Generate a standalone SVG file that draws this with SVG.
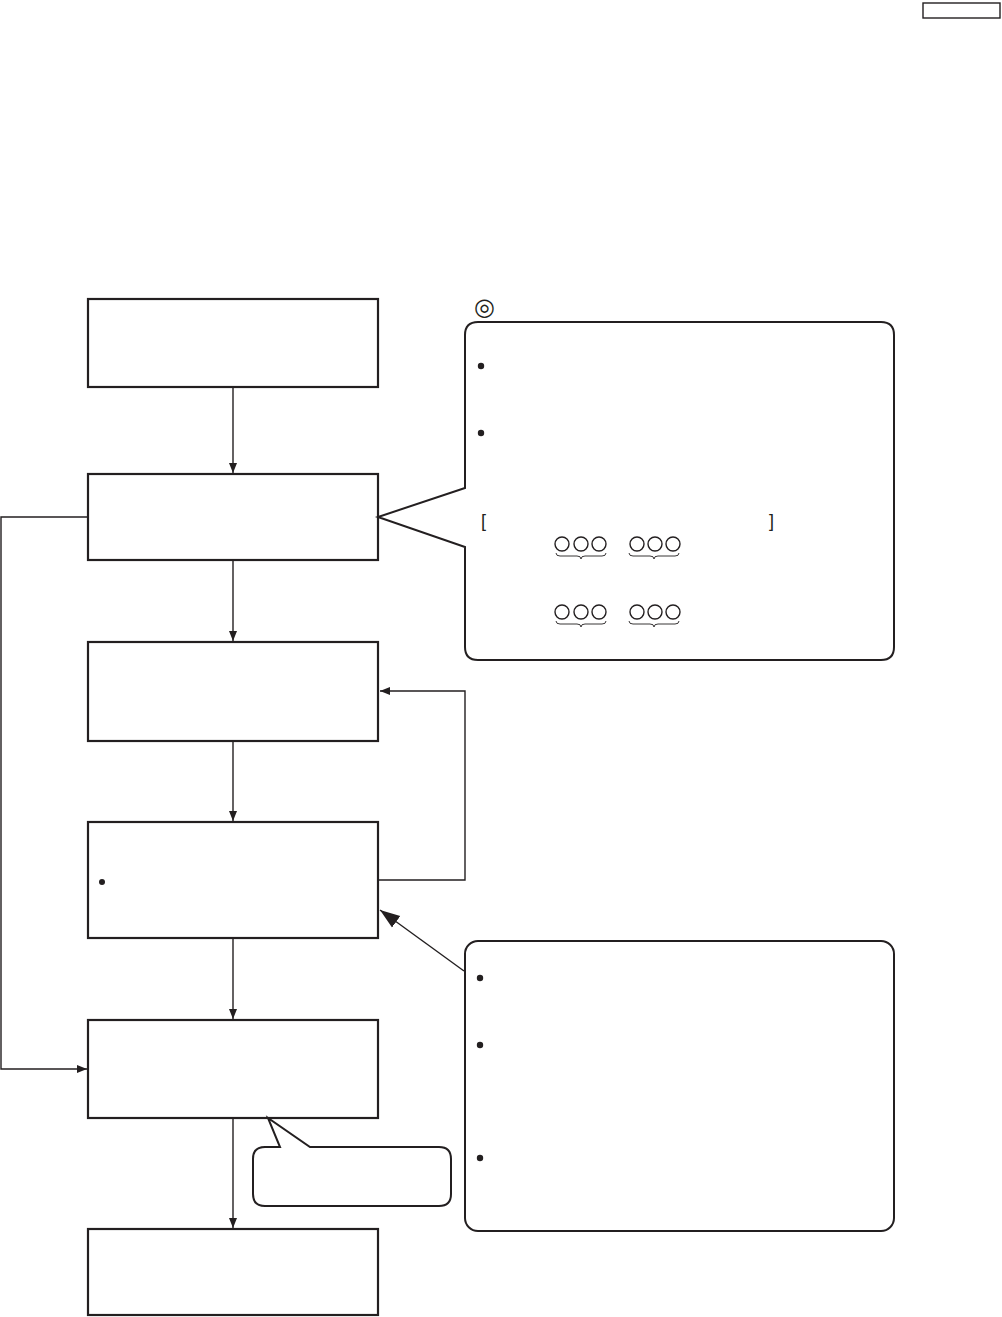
<svg xmlns="http://www.w3.org/2000/svg" width="1002" height="1317" viewBox="0 0 1002 1317">
<style>
.box{fill:#fff;stroke:#231f20;stroke-width:2.2}
.call{fill:#fff;stroke:#231f20;stroke-width:2;stroke-linejoin:miter}
.con{fill:none;stroke:#231f20;stroke-width:1.4}
.dot{fill:#231f20}
.oc{fill:none;stroke:#231f20;stroke-width:1.4}
.br{fill:none;stroke:#231f20;stroke-width:0.9}
.t{font-family:"Liberation Sans",Arial,sans-serif;fill:#231f20}
</style>
<defs>
<marker id="ah" viewBox="0 0 10 10" refX="10" refY="5" markerWidth="10" markerHeight="10" markerUnits="userSpaceOnUse" orient="auto">
<path d="M0,1 L10,5 L0,9 z" fill="#231f20"/>
</marker>
<marker id="ahBig" viewBox="0 0 10 10" refX="10" refY="5" markerWidth="20" markerHeight="20" markerUnits="userSpaceOnUse" orient="auto">
<path d="M0,1.5 L10,5 L0,8.5 z" fill="#231f20"/>
</marker>
</defs>
<rect id="page-tag" x="923" y="3" width="77" height="15" fill="#fff" stroke="#231f20" stroke-width="1.4"/>
<g id="connectors">
<line class="con" x1="233" y1="388" x2="233" y2="473" marker-end="url(#ah)"/>
<line class="con" x1="233" y1="561" x2="233" y2="641" marker-end="url(#ah)"/>
<line class="con" x1="233" y1="741" x2="233" y2="821" marker-end="url(#ah)"/>
<line class="con" x1="233" y1="938" x2="233" y2="1019" marker-end="url(#ah)"/>
<line class="con" x1="233" y1="1118" x2="233" y2="1228" marker-end="url(#ah)"/>
<polyline class="con" points="88,517 1,517 1,1069 87,1069" marker-end="url(#ah)"/>
<polyline class="con" points="379,880 465,880 465,691 380,691" marker-end="url(#ah)"/>
<line class="con" x1="464" y1="971" x2="380" y2="910" marker-end="url(#ahBig)" stroke-width="2"/>
</g>
<g id="box1"><rect class="box" x="88" y="299" width="290" height="88"/></g>
<g id="box2"><rect class="box" x="88" y="474" width="290" height="86"/></g>
<g id="box3"><rect class="box" x="88" y="642" width="290" height="99"/></g>
<g id="box4"><rect class="box" x="88" y="822" width="290" height="116"/><circle class="dot" cx="102" cy="882" r="3"/></g>
<g id="box5"><rect class="box" x="88" y="1020" width="290" height="98"/></g>
<g id="box6"><rect class="box" x="88" y="1229" width="290" height="86"/></g>
<g id="callout1">
<text class="t" x="484" y="315" font-size="24" text-anchor="middle" font-family="DejaVu Sans">◎</text>
<path class="call" d="M478,322 H881 Q894,322 894,335 V647 Q894,660 881,660 H478 Q465,660 465,647 V547 L378,517 L465,488 V335 Q465,322 478,322 Z"/>
<circle class="dot" cx="481" cy="366" r="3.2"/>
<circle class="dot" cx="481" cy="433" r="3.2"/>
<text class="t" x="481" y="527" font-size="18">[</text>
<text class="t" x="769" y="527" font-size="18">]</text>
<g id="circles-row1">
<circle class="oc" cx="562" cy="544" r="7"/><circle class="oc" cx="581" cy="544" r="7"/><circle class="oc" cx="599" cy="544" r="7"/>
<circle class="oc" cx="637" cy="544" r="7"/><circle class="oc" cx="655" cy="544" r="7"/><circle class="oc" cx="673" cy="544" r="7"/>
<path class="br" d="M556,553 q0,3 4,3 h17 q4,0 4,3 q0,-3 4,-3 h17 q4,0 4,-3"/>
<path class="br" d="M629,553 q0,3 4,3 h17 q4,0 4,3 q0,-3 4,-3 h17 q4,0 4,-3"/>
</g>
<g id="circles-row2">
<circle class="oc" cx="562" cy="612" r="7"/><circle class="oc" cx="581" cy="612" r="7"/><circle class="oc" cx="599" cy="612" r="7"/>
<circle class="oc" cx="637" cy="612" r="7"/><circle class="oc" cx="655" cy="612" r="7"/><circle class="oc" cx="673" cy="612" r="7"/>
<path class="br" d="M556,621 q0,3 4,3 h17 q4,0 4,3 q0,-3 4,-3 h17 q4,0 4,-3"/>
<path class="br" d="M629,621 q0,3 4,3 h17 q4,0 4,3 q0,-3 4,-3 h17 q4,0 4,-3"/>
</g>
</g>
<g id="callout2">
<rect class="call" x="465" y="941" width="429" height="290" rx="13" ry="13"/>
<circle class="dot" cx="480" cy="978" r="3.2"/>
<circle class="dot" cx="480" cy="1045" r="3.2"/>
<circle class="dot" cx="480" cy="1158" r="3.2"/>
</g>
<g id="callout3">
<path class="call" d="M265,1147 H280 L268,1118 L310,1147 H439 Q451,1147 451,1159 V1194 Q451,1206 439,1206 H265 Q253,1206 253,1194 V1159 Q253,1147 265,1147 Z"/>
</g>
</svg>
